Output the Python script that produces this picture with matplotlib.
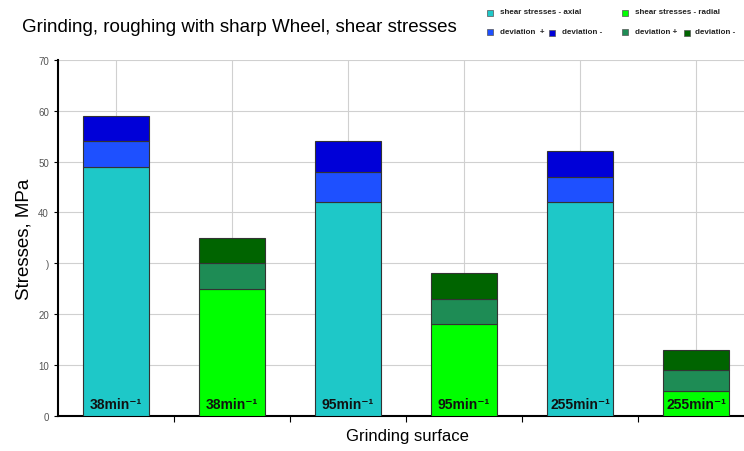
import numpy as np
import matplotlib.pyplot as plt
from matplotlib.patches import Rectangle

plt.rcParams['font.family'] = ['Liberation Sans', 'DejaVu Sans']

labels = ['38min⁻¹', '38min⁻¹', '95min⁻¹', '95min⁻¹', '255min⁻¹', '255min⁻¹']
base = [49, 25, 42, 18, 42, 5]
dev_plus = [5, 5, 6, 5, 5, 4]
dev_minus = [5, 5, 6, 5, 5, 4]
kind = ['axial', 'radial', 'axial', 'radial', 'axial', 'radial']
ytick_labels = ['0', '10', '20', ')', '40', '50', '60', '70']

colors = {
    'axial': ('#1ec8c8', '#1e50ff', '#0000d8'),
    'radial': ('#00ff00', '#1e8c55', '#006400'),
}

fig = plt.figure(figsize=(7.44, 4.52), dpi=100)
ax = fig.add_axes([0.078, 0.0775, 0.922, 0.788])

x = np.arange(len(base))
w = 0.57
for i in range(len(base)):
    c0, c1, c2 = colors[kind[i]]
    ax.bar(x[i], base[i], w, color=c0, edgecolor='#333333', linewidth=0.8, zorder=3)
    ax.bar(x[i], dev_plus[i], w, bottom=base[i], color=c1, edgecolor='#333333', linewidth=0.8, zorder=3)
    ax.bar(x[i], dev_minus[i], w, bottom=base[i] + dev_plus[i], color=c2, edgecolor='#333333', linewidth=0.8, zorder=3)
    ax.text(x[i], 1.0, labels[i], ha='center', va='bottom', fontsize=10,
            fontweight='bold', color='#111111', zorder=4)

ax.set_xlim(-0.5, 5.414)
ax.set_ylim(0, 70)
ax.set_yticks(range(0, 71, 10))
ax.set_yticklabels(ytick_labels, fontsize=7, color='#555555')
ax.set_xticks(np.arange(0.5, 5.5, 1.0))
ax.set_xticklabels([])
ax.set_xticks(np.arange(0, 5.5, 0.5), minor=True)
ax.tick_params(axis='x', which='major', length=4, direction='out')
ax.tick_params(axis='x', which='minor', length=0)
ax.tick_params(axis='y', length=3)
ax.grid(True, which='minor', axis='x', color='#d0d0d0', linewidth=0.8, zorder=0)
ax.grid(True, which='major', axis='y', color='#d0d0d0', linewidth=0.8, zorder=0)
for s in ['top', 'right']:
    ax.spines[s].set_visible(False)
ax.spines['left'].set_linewidth(1.5)
ax.spines['bottom'].set_linewidth(1.5)

ax.set_ylabel('Stresses, MPa', fontsize=13.5, labelpad=4)
fig.text(407 / 744, 1 - 437 / 452, 'Grinding surface', fontsize=12, ha='center', va='center')
fig.text(22 / 744, 1 - 27 / 452, 'Grinding, roughing with sharp Wheel, shear stresses', fontsize=13.5, va='center')

# legend drawn by hand
def sq(xp, yp, c):
    fig.patches.append(Rectangle((xp / 744, 1 - (yp + 3) / 452), 6 / 744, 6 / 452,
                                 transform=fig.transFigure, facecolor=c, edgecolor='#555555', linewidth=0.5))

def txt(xp, yp, s):
    fig.text(xp / 744, 1 - yp / 452, s, fontsize=5.8, fontweight='bold', va='center', color='#222222')

sq(487, 14, colors['axial'][0]); txt(500, 12, 'shear stresses - axial')
sq(487, 33, colors['axial'][1]); txt(500, 32, 'deviation  +')
sq(549, 34, colors['axial'][2]); txt(562, 32, 'deviation -')
sq(622, 14, colors['radial'][0]); txt(635, 12, 'shear stresses - radial')
sq(622, 33, colors['radial'][1]); txt(635, 32, 'deviation +')
sq(684, 34, colors['radial'][2]); txt(695, 32, 'deviation -')

fig.savefig('out.png', dpi=100)
